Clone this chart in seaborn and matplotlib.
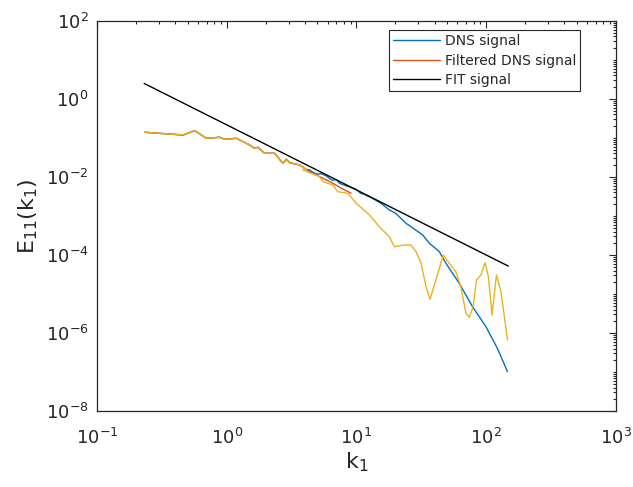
import numpy as np
import pandas as pd
import matplotlib
matplotlib.use("Agg")
import matplotlib.pyplot as plt
import matplotlib.ticker as mticker
import seaborn as sns

# Wavenumbers and energy spectrum values shared by all curves at low k
k_common = [0.234, 0.461, 0.567, 0.698, 0.883, 0.966, 1.19, 1.50, 1.64, 1.74,
            1.96, 2.34, 2.71, 2.88, 3.05, 3.65, 4.10]
E_common = [0.140, 0.119, 0.154, 0.098, 0.104, 0.0926, 0.098, 0.0662, 0.0544, 0.0578,
            0.0405, 0.0405, 0.0224, 0.0284, 0.0233, 0.0203, 0.0157]

# DNS signal beyond the shared range
k_dns_tail = [4.35, 4.7, 5.0, 5.4, 5.85, 6.5, 7.0, 7.40, 8.0, 8.5, 9.95, 10.8, 11.5,
              13.3, 15.5, 17.9, 20.0, 22.7, 24.1, 28.0, 32.4, 36.5, 43.5, 49.0, 62.0,
              78.5, 99.6, 122, 146]
E_dns_tail = [0.0151, 0.0128, 0.0118, 0.0122, 0.0106, 0.0082, 0.0086, 0.00689, 0.0062,
              0.0058, 0.00484, 0.0038, 0.0036, 0.00284, 0.0021, 0.00143, 0.00118,
              7.9e-4, 6.5e-4, 4.6e-4, 3.26e-4, 2.0e-4, 1.22e-4, 6.1e-5, 1.88e-5,
              4.72e-6, 1.45e-6, 4.05e-7, 1.02e-7]

# Filtered DNS signal beyond the shared range
k_filt_tail = [4.35, 5.51, 6.58, 7.6, 9.10]
E_filt_tail = [0.0137, 0.00927, 0.00689, 0.0052, 0.00382]

# Low-pass reconstruction beyond the shared range
k_low_tail = [3.86, 5.19, 5.51, 6.58, 7.18, 8.57, 9.95, 12.6, 15.0, 17.9, 19.6, 23.4,
              26.3, 28.8, 31.5, 34.4, 36.9, 41.0, 46.7, 51.9, 58.4, 63.8, 69.8, 74.0,
              79.4, 84.2, 91.0, 98.2, 104, 111, 120, 130, 137, 146]
E_low_tail = [0.0151, 0.0102, 0.00757, 0.00624, 0.0042, 0.00382, 0.00212, 0.00106,
              5.32e-4, 2.94e-4, 1.63e-4, 1.80e-4, 1.80e-4, 1.22e-4, 6.1e-5, 1.54e-5,
              7.3e-6, 2.29e-5, 1.0e-4, 6.1e-5, 3.73e-5, 1.54e-5, 3.2e-6, 2.53e-6,
              4.72e-6, 2.29e-5, 3.07e-5, 6.35e-5, 2.78e-5, 2.9e-6, 3.07e-5, 1.15e-5,
              3.2e-6, 6.6e-7]

# Kolmogorov -5/3 fit endpoints
k_fit = [0.231, 148]
E_fit = [2.5, 5.2e-5]

DNS_LABEL = "DNS signal"
FILT_LABEL = "Filtered DNS signal"
FIT_LABEL = "FIT signal"

dns = pd.DataFrame({"k": k_common + k_dns_tail, "E": E_common + E_dns_tail})
filt = pd.DataFrame({"k": k_common + k_filt_tail, "E": E_common + E_filt_tail})
low = pd.DataFrame({"k": k_common + k_low_tail, "E": E_common + E_low_tail})
fit = pd.DataFrame({"k": k_fit, "E": E_fit})

sns.set_style("white")
text_gray = "#262626"
plt.rcParams.update({
    "font.family": ["DejaVu Sans"],
    "mathtext.default": "regular",
    "xtick.direction": "in",
    "ytick.direction": "in",
    "xtick.color": text_gray,
    "ytick.color": text_gray,
    "axes.edgecolor": text_gray,
    "axes.labelcolor": text_gray,
    "text.color": text_gray,
})

fig = plt.figure(figsize=(6.33, 4.87), dpi=100)
ax = fig.add_axes([0.1532, 0.156, 0.8198, 0.801])

common = dict(ax=ax, x="k", y="E", sort=False, estimator=None, linewidth=1.0)
sns.lineplot(data=dns, color="#0072BD", label=DNS_LABEL, **common)
sns.lineplot(data=filt, color="#D95319", label=FILT_LABEL, **common)
sns.lineplot(data=fit, color="black", label=FIT_LABEL, **common)
sns.lineplot(data=low, color="#EDB120", **common)

ax.set_xscale("log")
ax.set_yscale("log")
ax.set_xlim(1e-1, 1e3)
ax.set_ylim(1e-8, 1e2)

ax.xaxis.set_major_locator(mticker.LogLocator(base=10, numticks=10))
ax.yaxis.set_major_locator(mticker.FixedLocator([1e-8, 1e-6, 1e-4, 1e-2, 1e0, 1e2]))
ax.xaxis.set_minor_locator(mticker.LogLocator(base=10, subs=np.arange(2, 10), numticks=20))
ax.yaxis.set_minor_locator(mticker.LogLocator(base=10, subs=np.arange(1, 10), numticks=30))
ax.yaxis.set_minor_formatter(mticker.NullFormatter())
ax.xaxis.set_minor_formatter(mticker.NullFormatter())

ax.tick_params(which="both", top=True, right=True, labelsize=13, width=0.8)
ax.tick_params(axis="x", which="both", pad=12)
ax.tick_params(axis="y", which="both", pad=6)
ax.tick_params(which="major", length=5)
ax.tick_params(which="minor", length=2.5)
for s in ax.spines.values():
    s.set_linewidth(0.9)

ax.set_xlabel("$k_1$", fontsize=16, labelpad=2)
ax.set_ylabel("$E_{11}(k_1)$", fontsize=16, labelpad=4)

leg = ax.legend(loc="upper right", bbox_to_anchor=(0.931, 0.977), fontsize=10,
                frameon=True, fancybox=False, framealpha=1, edgecolor=text_gray,
                handlelength=3.4, handletextpad=0.3, borderpad=0.3, labelspacing=0.4,
                borderaxespad=0)
leg.get_frame().set_linewidth(0.8)

fig.savefig("out.png", dpi=100)
